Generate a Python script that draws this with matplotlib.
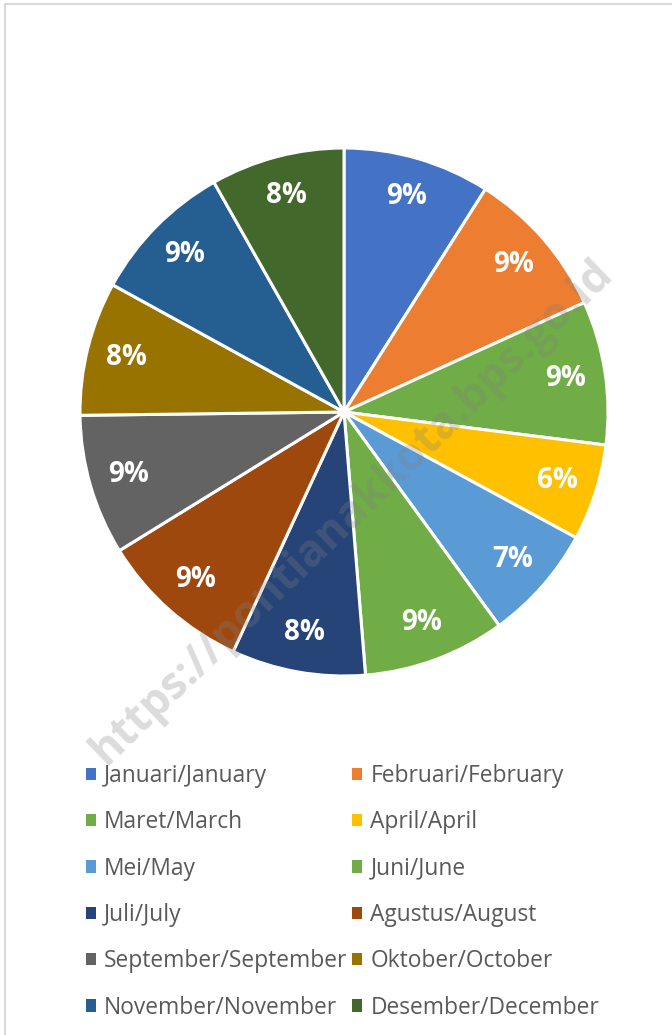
import matplotlib.pyplot as plt
from matplotlib.patches import Rectangle

labels = ["Januari/January", "Februari/February", "Maret/March", "April/April",
          "Mei/May", "Juni/June", "Juli/July", "Agustus/August",
          "September/September", "Oktober/October", "November/November",
          "Desember/December"]
shares = [9.0, 9.2, 8.8, 5.9, 7.1, 8.7, 8.2, 9.3, 8.6, 8.2, 8.8, 8.2]
colors = ["#4472C4", "#ED7D31", "#70AD47", "#FFC000", "#5B9BD5", "#70AD47",
          "#264478", "#9E480E", "#636363", "#997300", "#255E91", "#43682B"]

plt.rcParams['font.family'] = ['Open Sans', 'DejaVu Sans']

fig = plt.figure(figsize=(6.72, 10.35), dpi=100)

# light frame round the chart area
fig.patches.append(Rectangle((5 / 672, -0.1), 1.2, 1 - 4 / 1035 + 0.1,
                             transform=fig.transFigure, fill=False,
                             edgecolor="#d9d9d9", linewidth=1.5))

ax = fig.add_axes([80 / 672, (1035 - 676) / 1035, 528 / 672, 528 / 1035])
wedges, texts, autotexts = ax.pie(
    shares, colors=colors, startangle=90, counterclock=False, radius=1,
    autopct='%.0f%%', pctdistance=0.85,
    wedgeprops=dict(edgecolor="white", linewidth=2.2),
    textprops=dict(color="white", fontsize=20, fontweight="bold"))
ax.set_xlim(-1, 1)
ax.set_ylim(-1, 1)
ax.set_aspect('equal')
ax.axis('off')

# legend: row-major order like the original
order = list(range(0, 12, 2)) + list(range(1, 12, 2))
leg = fig.legend([wedges[i] for i in order], [labels[i] for i in order],
                 ncol=2, loc="upper left", bbox_to_anchor=(86 / 672, 1 - 764 / 1035),
                 frameon=False, fontsize=16.4, handlelength=0.45, handleheight=0.45,
                 handletextpad=0.35, columnspacing=0.2, labelspacing=0.98,
                 borderpad=0, borderaxespad=0)
for t in leg.get_texts():
    t.set_color("#595959")
for h in leg.legend_handles:
    h.set_edgecolor("none")

fig.text(352 / 672, 1 - 512 / 1035, "https://pontianakkota.bps.go.id",
         rotation=44, ha="center", va="center", fontsize=32, fontweight="bold",
         color="gray", alpha=0.28, rotation_mode="anchor")

fig.savefig("out.png", dpi=100)
